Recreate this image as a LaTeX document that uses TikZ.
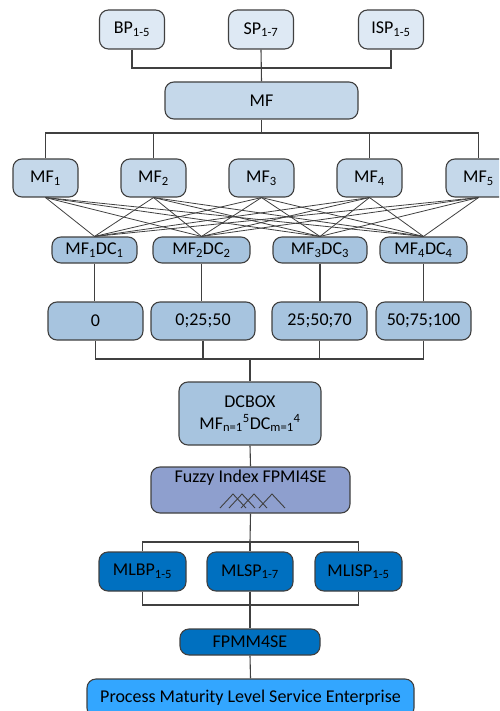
\documentclass[tikz,border=0pt]{standalone}
\usepackage{fontspec}
\setmainfont{Carlito}
\definecolor{linec}{HTML}{404040}
\definecolor{ctop}{HTML}{DEE9F4}
\definecolor{cmf}{HTML}{C5D8EA}
\definecolor{cdc}{HTML}{A7C4DF}
\definecolor{cfz}{HTML}{8E9FCE}
\definecolor{cml}{HTML}{0070C0}
\definecolor{cpml}{HTML}{33A6FF}
\begin{document}
\begin{tikzpicture}[x=1pt,y=-1pt,
  box/.style={draw=linec, line width=1.1pt, rounded corners=9pt, inner sep=0pt, align=center,
    font=\fontsize{18}{21}\selectfont, text=black},
  topbox/.style={box, fill=ctop, minimum width=65pt, minimum height=39pt},
  mfbox/.style={box, fill=cmf, minimum width=65pt, minimum height=38pt},
  dcbox/.style={box, fill=cdc, minimum height=26pt},
  valbox/.style={box, fill=cdc, minimum height=38pt},
  mlbox/.style={box, fill=cml, minimum height=39pt, minimum width=87pt},
  conn/.style={draw=linec, line width=1.1pt},
  cross/.style={draw=linec, line width=0.8pt}
]
\useasboundingbox (0,0) rectangle (499,711);
\begin{scope}
\clip (0,0) rectangle (499,711);
% top row
\node[topbox] (BP) at (132,29.5) {BP\textsubscript{1-5}};
\node[topbox] (SP) at (261,29.5) {SP\textsubscript{1-7}};
\node[topbox] (ISP) at (391,29.5) {ISP\textsubscript{1-5}};
\node[box, fill=cmf, minimum width=193pt, minimum height=37pt] (MF) at (261.5,100.5) {MF};
\coordinate (j1) at (261,68);
\draw[conn] (BP.south) |- (j1) -| (ISP.south);
\draw[conn] (SP.south) -- (MF.north);
% MF row
\node[mfbox] (MF1) at (45.5,178) {MF\textsubscript{1}};
\node[mfbox] (MF2) at (153.5,178) {MF\textsubscript{2}};
\node[mfbox] (MF3) at (261.5,178) {MF\textsubscript{3}};
\node[mfbox] (MF4) at (369.5,178) {MF\textsubscript{4}};
\node[mfbox] (MF5) at (478.5,178) {MF\textsubscript{5}};
\coordinate (j2) at (261.5,133);
\draw[conn] (MF1.north) |- (j2) -| (MF5.north);
\draw[conn] (MF2.north) |- (j2);
\draw[conn] (MF4.north) |- (j2);
\draw[conn] (MF.south) -- (j2);
% DC row
\node[dcbox, minimum width=85pt] (DC1) at (94.5,250) {MF\textsubscript{1}DC\textsubscript{1}};
\node[dcbox, minimum width=97pt] (DC2) at (201.5,250) {MF\textsubscript{2}DC\textsubscript{2}};
\node[dcbox, minimum width=94pt] (DC3) at (320,250) {MF\textsubscript{3}DC\textsubscript{3}};
\node[dcbox, minimum width=87pt] (DC4) at (423.5,250) {MF\textsubscript{4}DC\textsubscript{4}};
\foreach \i in {1,...,5}{
  \foreach \j in {1,...,4}{
    \draw[cross] (MF\i.south) -- (DC\j.north);
  }
}
% value row
\node[valbox, minimum width=95pt] (V1) at (95.5,321) {0};
\node[valbox, minimum width=104pt] (V2) at (203,321) {0;25;50};
\node[valbox, minimum width=95pt] (V3) at (319.5,321) {25;50;70};
\node[valbox, minimum width=95pt] (V4) at (423.5,321) {50;75;100};
\draw[conn] (DC1.south) -- (DC1.south |- V1.north);
\draw[conn] (DC2.south) -- (DC2.south |- V2.north);
\draw[conn] (DC3.south) -- (DC3.south |- V3.north);
\draw[conn] (DC4.south) -- (DC4.south |- V4.north);
\coordinate (j3) at (250,359);
\draw[conn] (V1.south) |- (j3) -| (V4.south);
\draw[conn] (V2.south) |- (j3);
\draw[conn] (V3.south) |- (j3);
% DCBOX
\node[box, fill=cdc, minimum width=142pt, minimum height=63pt] (DCB) at (250,413.5)
  {DCBOX\\[1pt]MF\textsubscript{n=1}\textsuperscript{5}DC\textsubscript{m=1}\textsuperscript{4}};
\draw[conn] (j3) -- (DCB.north);
% Fuzzy
\node[box, fill=cfz, minimum width=199pt, minimum height=46pt, text depth=20pt] (FZ) at (250.5,490) {};
\node[font=\fontsize{18}{21}\selectfont, inner sep=0pt] (FZT) at (250.5,478) {Fuzzy Index FPMI4SE};
\draw[conn] (DCB.south) -- (FZ.north);
\begin{scope}[draw=linec, line width=0.9pt]
\draw (220,508) -- (233,494) -- (246,508);
\draw (229,508) -- (242,494) -- (255,508);
\draw (241,508) -- (254,494) -- (267,508);
\draw (259,508) -- (272,494) -- (285,508);
\end{scope}
% ML row
\node[mlbox] (MLBP) at (142.5,571.5) {MLBP\textsubscript{1-5}};
\node[mlbox, minimum width=86pt] (MLSP) at (250,571.5) {MLSP\textsubscript{1-7}};
\node[mlbox] (MLISP) at (358.5,571.5) {MLISP\textsubscript{1-5}};
\coordinate (j4) at (250,542);
\draw[conn] (FZ.south) -- (j4);
\draw[conn] (MLBP.north) |- (j4) -| (MLISP.north);
\draw[conn] (j4) -- (MLSP.north);
\coordinate (j5) at (250,605);
\draw[conn] (MLBP.south) |- (j5) -| (MLISP.south);
\draw[conn] (MLSP.south) -- (j5);
\node[box, fill=cml, minimum width=140pt, minimum height=26pt] (FP) at (250,642) {FPMM4SE};
\draw[conn] (j5) -- (FP.north);
\node[box, fill=cpml, minimum width=327pt, minimum height=38pt] (PML) at (250.5,698) {Process Maturity Level Service Enterprise};
\draw[conn] (FP.south) -- (PML.north);
\end{scope}
\end{tikzpicture}
\end{document}
